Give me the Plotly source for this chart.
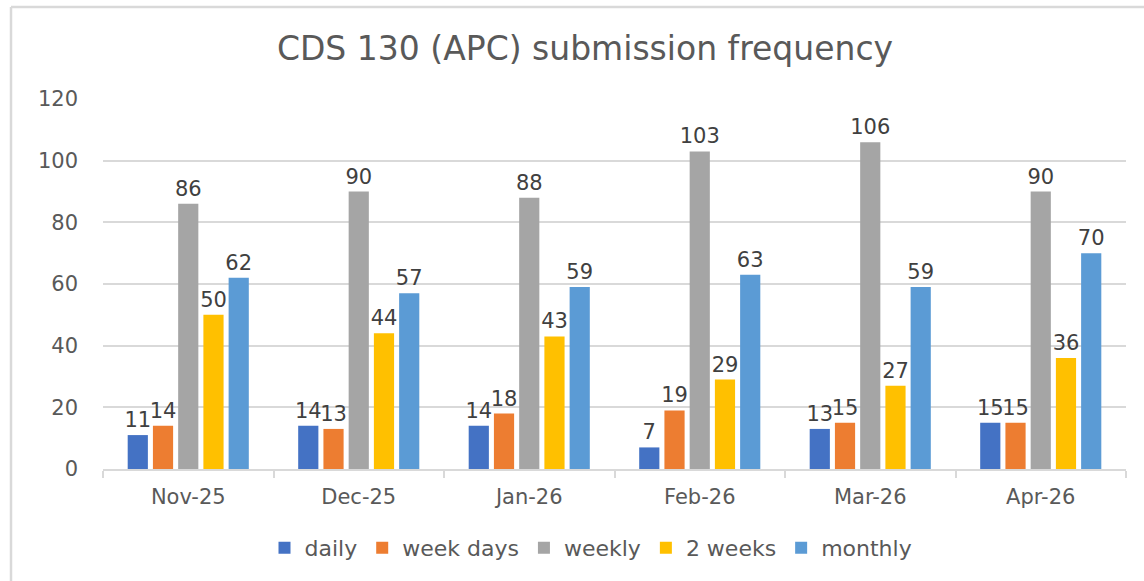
import plotly.graph_objects as go

categories = ["Nov-25", "Dec-25", "Jan-26", "Feb-26", "Mar-26", "Apr-26"]
daily = [11, 14, 14, 7, 13, 15]
week_days = [14, 13, 18, 19, 15, 15]
weekly = [86, 90, 88, 103, 106, 90]
two_weeks = [50, 44, 43, 29, 27, 36]
monthly = [62, 57, 59, 63, 59, 70]
y_ticks = [0, 20, 40, 60, 80, 100, 120]

series = [
    ("daily", daily, "#4472C4"),
    ("week days", week_days, "#ED7D31"),
    ("weekly", weekly, "#A5A5A5"),
    ("2 weeks", two_weeks, "#FFC000"),
    ("monthly", monthly, "#5B9BD5"),
]

FONT = "DejaVu Sans"
W, H = 1144, 581
L, R, T, B = 103, 18, 99, 112

fig = go.Figure()
for name, vals, col in series:
    fig.add_trace(go.Bar(
        name=name, x=categories, y=vals, marker_color=col,
        marker_line_width=0,
        text=vals, textposition="outside", constraintext="none",
        cliponaxis=False,
        textfont=dict(family=FONT, size=21, color="#404040"),
    ))

fig.update_layout(
    width=W, height=H,
    margin=dict(l=L, r=R, t=T, b=B),
    paper_bgcolor="white", plot_bgcolor="white",
    barmode="group", bargap=0.26, bargroupgap=0.2,
    title=dict(text="CDS 130 (APC) submission frequency",
               font=dict(family=FONT, size=33, color="#595959"),
               x=585 / W, xref="container", xanchor="center",
               y=1 - 48 / H, yref="container", yanchor="middle"),
    legend=dict(orientation="h", xref="container", yref="container",
                x=591 / W, xanchor="center", y=1 - 548 / H, yanchor="middle",
                font=dict(family=FONT, size=22, color="#595959"),
                itemwidth=30, traceorder="normal"),
    showlegend=True,
)
fig.update_xaxes(
    showline=True, linecolor="#D9D9D9", linewidth=2,
    tickson="boundaries", ticks="outside", ticklen=7, tickcolor="#D9D9D9",
    tickwidth=2,
    tickfont=dict(family=FONT, size=21, color="#595959"),
    ticklabelstandoff=8,
    showgrid=False,
)
fig.update_yaxes(
    range=[0, 120], tickvals=y_ticks,
    showgrid=True, gridcolor="#D9D9D9", gridwidth=1.5,
    zeroline=False, showline=False,
    tickfont=dict(family=FONT, size=21, color="#595959"),
    ticklabelstandoff=24,
)

# chart-area border (top and left edges visible in reference)
fig.add_shape(type="line", xref="paper", yref="paper",
              x0=(11 - L) / (W - L - R), x1=(W - L) / (W - L - R),
              y0=(H - B - 7) / (H - T - B), y1=(H - B - 7) / (H - T - B),
              line=dict(color="#D9D9D9", width=2.5))
fig.add_shape(type="line", xref="paper", yref="paper",
              x0=(11 - L) / (W - L - R), x1=(11 - L) / (W - L - R),
              y0=(H - B - 7) / (H - T - B), y1=-B / (H - T - B),
              line=dict(color="#D9D9D9", width=2.5))

fig.write_html("out.html", config={"displayModeBar": False},
               post_script="document.body.style.margin='0';")
